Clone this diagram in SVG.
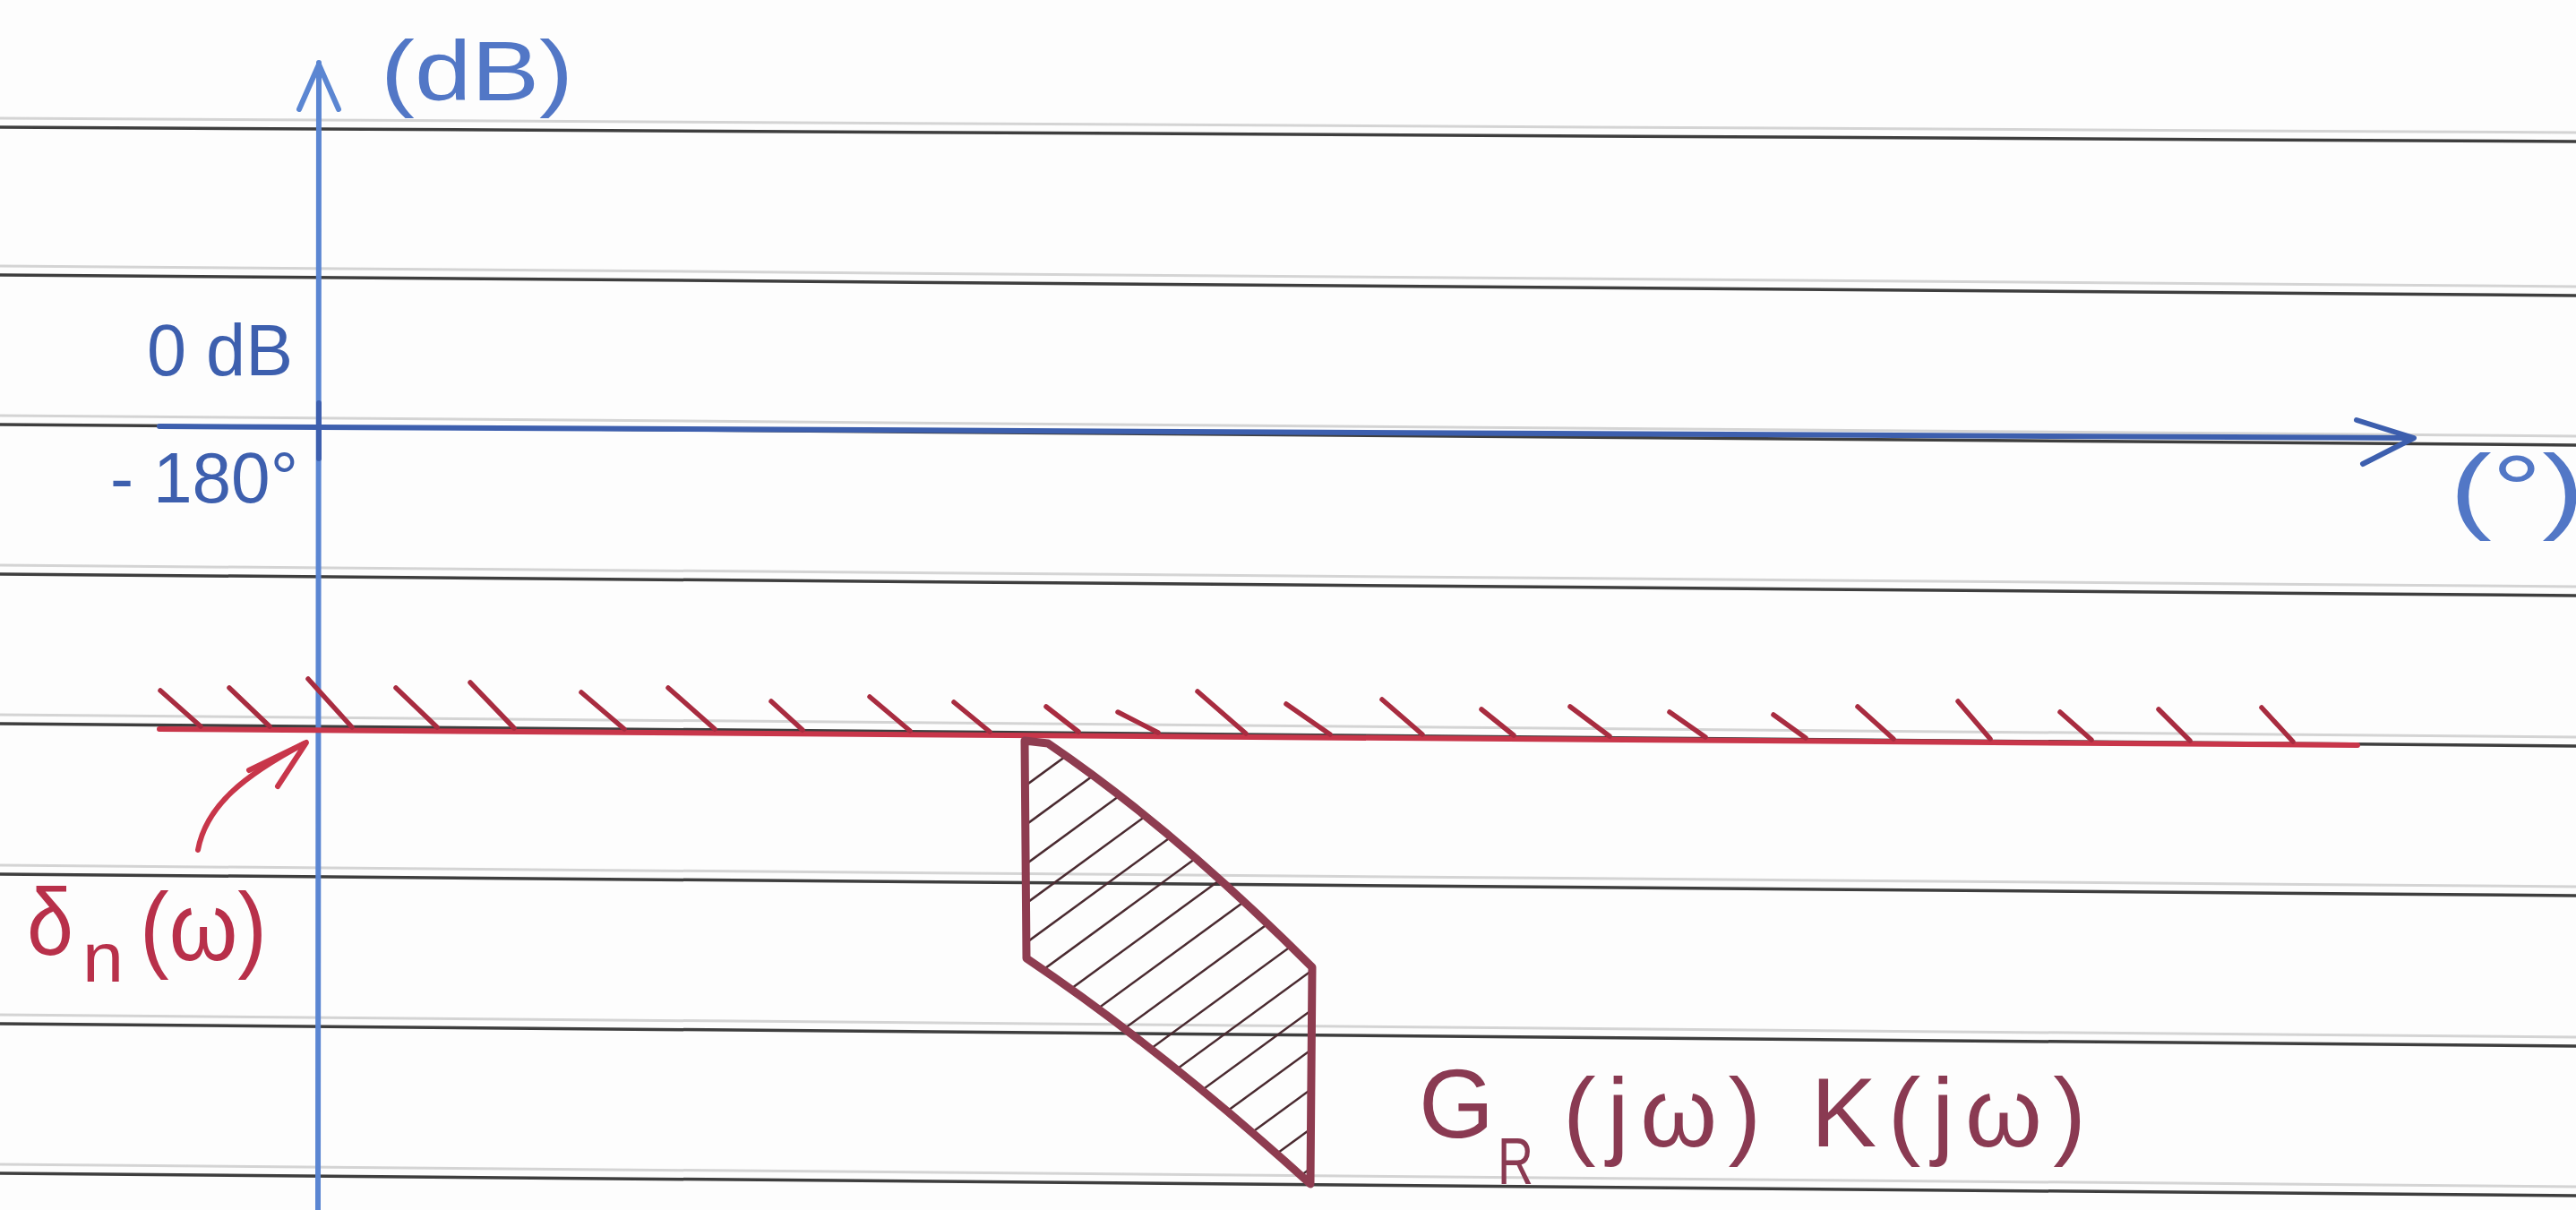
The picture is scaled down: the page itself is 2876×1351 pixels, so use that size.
<svg xmlns="http://www.w3.org/2000/svg" width="2876" height="1351" viewBox="0 0 2876 1351">
  <style>
    .rule { stroke: #3e3e3e; stroke-width: 3.5; fill: none; }
    .rule-faint { stroke: #d4d4d4; stroke-width: 3; fill: none; }
    .blue-v { stroke: #5b86d2; stroke-width: 6; fill: none; stroke-linecap: round; stroke-linejoin: round; }
    .blue-h { stroke: #3d5fae; stroke-width: 6; fill: none; stroke-linecap: round; stroke-linejoin: round; }
    .red { stroke: #c8364a; stroke-width: 6; fill: none; stroke-linecap: round; stroke-linejoin: round; }
    .tick { stroke: #a82c40; stroke-width: 5.5; fill: none; stroke-linecap: round; }
    .region { stroke: #8e3c50; stroke-width: 9; fill: none; stroke-linejoin: round; }
    .hatch { stroke: #4a2a30; stroke-width: 2.5; fill: none; }
    .lbl { font-family: "Liberation Sans", Arial, sans-serif; }
    .lbl-blue { fill: #5277c6; }
    .lbl-dblue { fill: #3d5fae; }
    .lbl-red { fill: #b8304a; }
    .lbl-maroon { fill: #8a3a52; }
  </style>
  <defs>
    <clipPath id="regionClip">
      <path d="M1144,827 L1170,830 Q1310,925 1465,1080 L1463,1322 Q1295,1170 1146,1070 Z"/>
    </clipPath>
  </defs>
  <rect x="0" y="0" width="2876" height="1351" fill="#fdfdfd"/>

  <g id="ruled-lines">
    <line class="rule-faint" x1="0" y1="132" x2="2876" y2="148"/>
    <line class="rule" x1="0" y1="142" x2="2876" y2="158"/>
    <line class="rule-faint" x1="0" y1="297" x2="2876" y2="320"/>
    <line class="rule" x1="0" y1="307" x2="2876" y2="330"/>
    <line class="rule-faint" x1="0" y1="464" x2="2876" y2="487"/>
    <line class="rule" x1="0" y1="474" x2="2876" y2="497"/>
    <line class="rule-faint" x1="0" y1="631" x2="2876" y2="655"/>
    <line class="rule" x1="0" y1="641" x2="2876" y2="665"/>
    <line class="rule-faint" x1="0" y1="798" x2="2876" y2="823"/>
    <line class="rule" x1="0" y1="808" x2="2876" y2="833"/>
    <line class="rule-faint" x1="0" y1="966" x2="2876" y2="990"/>
    <line class="rule" x1="0" y1="976" x2="2876" y2="1000"/>
    <line class="rule-faint" x1="0" y1="1133" x2="2876" y2="1158"/>
    <line class="rule" x1="0" y1="1143" x2="2876" y2="1168"/>
    <line class="rule-faint" x1="0" y1="1300" x2="2876" y2="1325"/>
    <line class="rule" x1="0" y1="1310" x2="2876" y2="1335"/>
  </g>

  <g id="axis-magnitude">
    <line class="blue-v" x1="356" y1="70" x2="355" y2="1351"/>
    <polyline class="blue-v" stroke-width="8" points="334,122 356,72 378,122"/>
    <text class="lbl lbl-blue" x="425" y="112" font-size="95" textLength="215" lengthAdjust="spacingAndGlyphs">(dB)</text>
  </g>

  <g id="axis-phase">
    <line class="blue-h" x1="178" y1="476" x2="2693" y2="489"/>
    <polyline class="blue-h" stroke-width="7" points="2631,469 2695,489 2638,518"/>
    <line class="blue-h" stroke-width="9" x1="356" y1="450" x2="356" y2="512"/>
    <text class="lbl lbl-blue" x="2735" y="582" font-size="105" textLength="150" lengthAdjust="spacingAndGlyphs">(°)</text>
  </g>

  <g id="origin-labels">
    <text class="lbl lbl-dblue" x="164" y="419" font-size="82" textLength="163" lengthAdjust="spacingAndGlyphs">0 dB</text>
    <text class="lbl lbl-dblue" x="123" y="561" font-size="80" textLength="210" lengthAdjust="spacingAndGlyphs">- 180°</text>
  </g>

  <g id="constraint-line">
    <line class="red" x1="178" y1="814" x2="2632" y2="832"/>
    <g class="tick">
      <line x1="179" y1="771" x2="224" y2="811"/>
      <line x1="256" y1="768" x2="301" y2="811"/>
      <line x1="344" y1="758" x2="393" y2="812"/>
      <line x1="442" y1="768" x2="488" y2="812"/>
      <line x1="525" y1="762" x2="574" y2="813"/>
      <line x1="649" y1="773" x2="697" y2="814"/>
      <line x1="746" y1="768" x2="798" y2="814"/>
      <line x1="861" y1="783" x2="896" y2="815"/>
      <line x1="971" y1="778" x2="1016" y2="816"/>
      <line x1="1065" y1="784" x2="1105" y2="817"/>
      <line x1="1168" y1="789" x2="1204" y2="817"/>
      <line x1="1248" y1="795" x2="1293" y2="818"/>
      <line x1="1337" y1="772" x2="1391" y2="819"/>
      <line x1="1436" y1="786" x2="1485" y2="820"/>
      <line x1="1543" y1="781" x2="1588" y2="820"/>
      <line x1="1654" y1="792" x2="1690" y2="821"/>
      <line x1="1753" y1="789" x2="1797" y2="822"/>
      <line x1="1864" y1="795" x2="1904" y2="823"/>
      <line x1="1980" y1="798" x2="2016" y2="824"/>
      <line x1="2074" y1="789" x2="2114" y2="825"/>
      <line x1="2186" y1="783" x2="2222" y2="825"/>
      <line x1="2300" y1="795" x2="2335" y2="826"/>
      <line x1="2410" y1="792" x2="2445" y2="827"/>
      <line x1="2525" y1="790" x2="2560" y2="828"/>
    </g>
    <text class="lbl lbl-red" x="30" y="1066" font-size="105" textLength="52" lengthAdjust="spacingAndGlyphs">δ</text>
    <text class="lbl lbl-red" x="92" y="1096" font-size="78" textLength="46" lengthAdjust="spacingAndGlyphs">n</text>
    <text class="lbl lbl-red" x="156" y="1072" font-size="108" textLength="142" lengthAdjust="spacingAndGlyphs">(ω)</text>
  </g>

  <g id="region">
    <g clip-path="url(#regionClip)">
      <g class="hatch">
        <line x1="1100" y1="910" x2="1520" y2="603"/>
        <line x1="1100" y1="954" x2="1520" y2="647"/>
        <line x1="1100" y1="998" x2="1520" y2="691"/>
        <line x1="1100" y1="1042" x2="1520" y2="735"/>
        <line x1="1100" y1="1086" x2="1520" y2="779"/>
        <line x1="1100" y1="1130" x2="1520" y2="823"/>
        <line x1="1100" y1="1174" x2="1520" y2="867"/>
        <line x1="1100" y1="1218" x2="1520" y2="911"/>
        <line x1="1100" y1="1262" x2="1520" y2="955"/>
        <line x1="1100" y1="1306" x2="1520" y2="999"/>
        <line x1="1100" y1="1350" x2="1520" y2="1043"/>
        <line x1="1100" y1="1394" x2="1520" y2="1087"/>
        <line x1="1100" y1="1438" x2="1520" y2="1131"/>
        <line x1="1100" y1="1482" x2="1520" y2="1175"/>
        <line x1="1100" y1="1526" x2="1520" y2="1219"/>
        <line x1="1100" y1="1570" x2="1520" y2="1263"/>
      </g>
    </g>
    <path class="region" d="M1144,827 L1170,830 Q1310,925 1465,1080 L1463,1322 Q1295,1170 1146,1070 Z"/>
    <text class="lbl lbl-maroon" x="1584" y="1270" font-size="110" textLength="84" lengthAdjust="spacingAndGlyphs">G</text>
    <text class="lbl lbl-maroon" x="1672" y="1322" font-size="74" textLength="40" lengthAdjust="spacingAndGlyphs">R</text>
    <text class="lbl lbl-maroon" x="1745" y="1280" font-size="110" textLength="584" lengthAdjust="spacing">(jω) K(jω)</text>
  </g>

  <g id="connectors">
    <path class="red" d="M221,949 C230,900 272,866 340,830"/>
    <polyline class="red" points="278,860 342,829 310,878"/>
  </g>
</svg>
